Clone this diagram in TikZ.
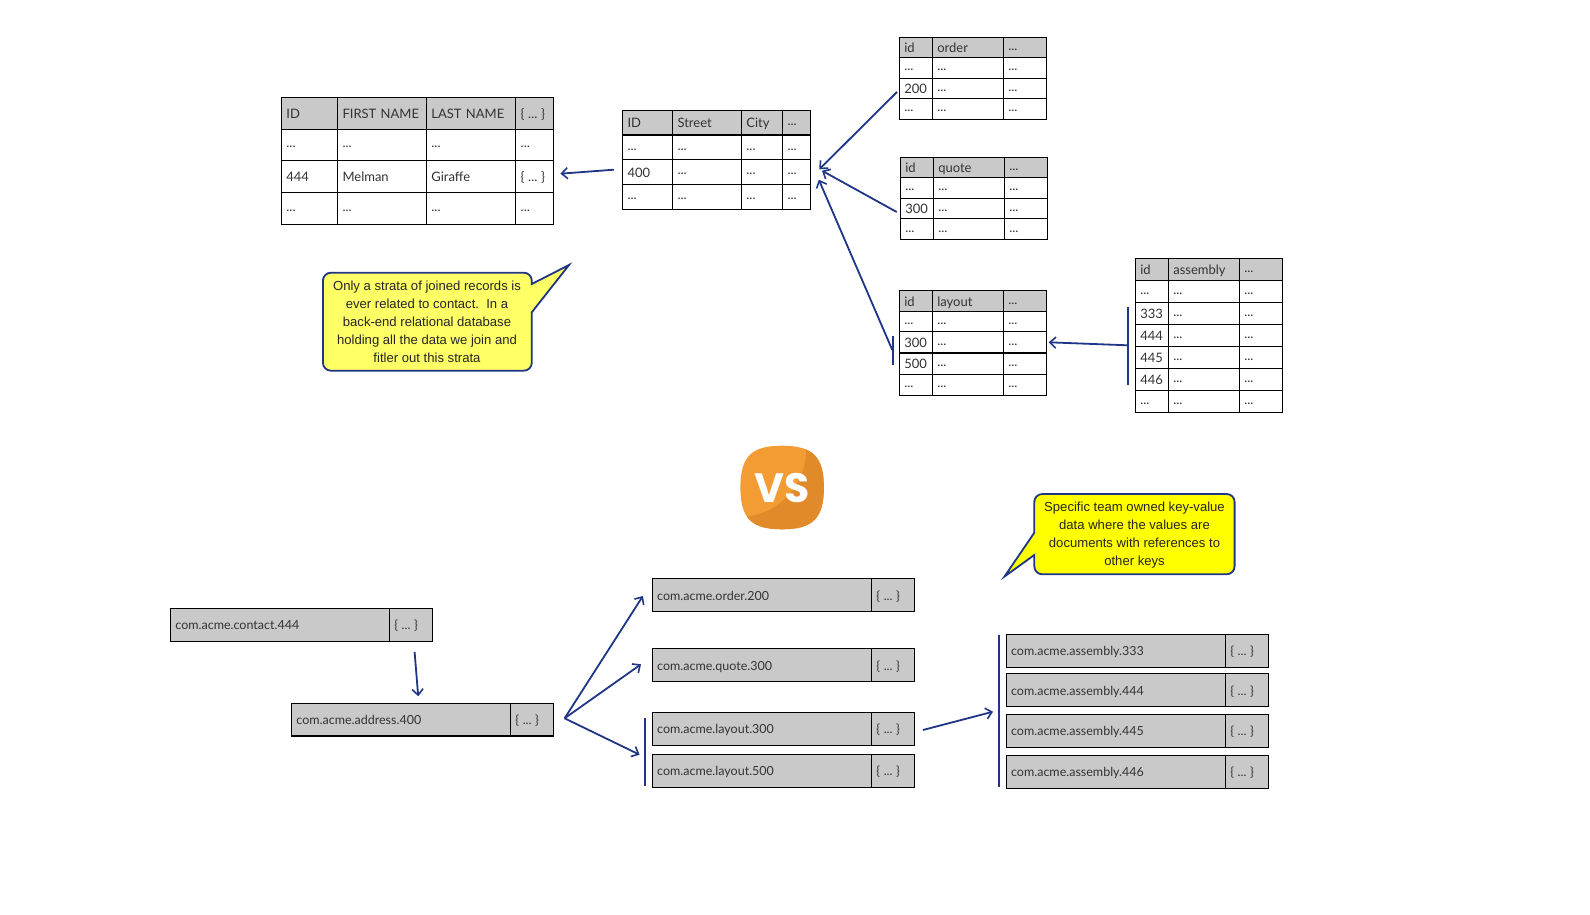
\documentclass[tikz,border=0pt]{standalone}
\usepackage{fontspec}
\setmainfont{Lato}
\newfontfamily\callfont{Liberation Sans}
\newfontfamily\logofont{Poppins}
\usetikzlibrary{arrows.meta}
\definecolor{navy}{HTML}{1F3585}
\definecolor{hdrgray}{HTML}{C9C9C9}
\definecolor{ink}{HTML}{333333}
\definecolor{softyellow}{HTML}{FFFF66}
\definecolor{fullyellow}{RGB}{255,255,0}
\definecolor{logolight}{HTML}{F39C33}
\definecolor{logodark}{HTML}{E08A2A}
\newcommand{\dd}{\raisebox{2pt}{...}}
\newcommand{\bb}{\{\kern3.6pt...\kern3.6pt\}}
\tikzset{
  x=1pt,y=-1pt,
  cellbase/.style={draw=black,line width=1.1pt,inner xsep=5pt,inner ysep=0pt,align=left,text=ink,font=\fontsize{13}{15}\selectfont},
  plain/.style={cellbase,fill=white},
  head/.style={cellbase,fill=hdrgray},
  keyrow/.style={cellbase,fill=hdrgray,font=\fontsize{12.5}{15}\selectfont},
  conn/.style={draw=navy,line width=1.8pt,-{Straight Barb[length=6pt,width=11pt,line width=1.6pt]}},
  groupbar/.style={draw=navy,line width=2pt},
  calloutshape/.style={draw=navy,line width=1.8pt,line join=miter},
  callouttext/.style={align=center,inner sep=0pt,text=black!85,font=\callfont\fontsize{13.1}{18}\selectfont},
}
% name, y top, y bottom, style, list of x1/x2/text
\newcommand{\trow}[5]{%
  \foreach \xa/\xb/\cellt [count=\c] in {#5}{%
    \pgfmathsetmacro\cw{\xb-\xa}%
    \pgfmathsetmacro\ch{#3-#2}%
    \pgfmathsetmacro\tw{\cw-10}%
    \pgfmathsetmacro\cx{(\xa+\xb)/2}%
    \pgfmathsetmacro\cy{(#2+#3)/2}%
    \node[#4,minimum width=\cw pt,minimum height=\ch pt,text width=\tw pt] (#1-\c) at (\cx,\cy) {\mbox{\rule[-1pt]{0pt}{12pt}\smash{\cellt}}};
  }%
}
\begin{document}
\begin{tikzpicture}
\useasboundingbox (0,0) rectangle (1590,915);
% contact table
\trow{con0}{97.3}{129.3}{head}{281.4/337.5/ID,337.5/426.4/FIRST NAME,426.4/515.7/LAST NAME,515.7/553.2/\bb}
\trow{con1}{129.3}{160.7}{plain}{281.4/337.5/\dd,337.5/426.4/\dd,426.4/515.7/\dd,515.7/553.2/\dd}
\trow{con2}{160.7}{192.3}{plain}{281.4/337.5/444,337.5/426.4/Melman,426.4/515.7/Giraffe,515.7/553.2/\bb}
\trow{con3}{192.3}{224.7}{plain}{281.4/337.5/\dd,337.5/426.4/\dd,426.4/515.7/\dd,515.7/553.2/\dd}
% address table
\trow{adr0}{110.7}{135}{head}{622.5/672.5/ID,672.5/741.4/Street,741.4/782.5/City,782.5/810.4/\dd}
\trow{adr1}{135}{159.7}{plain}{622.5/672.5/\dd,672.5/741.4/\dd,741.4/782.5/\dd,782.5/810.4/\dd}
\trow{adr2}{159.7}{184.3}{plain}{622.5/672.5/400,672.5/741.4/\dd,741.4/782.5/\dd,782.5/810.4/\dd}
\trow{adr3}{184.3}{209.3}{plain}{622.5/672.5/\dd,672.5/741.4/\dd,741.4/782.5/\dd,782.5/810.4/\dd}
% order table
\trow{ord0}{37.3}{57.7}{head}{899.3/932.3/id,932.3/1003.3/order,1003.3/1046.3/\dd}
\trow{ord1}{57.7}{78.3}{plain}{899.3/932.3/\dd,932.3/1003.3/\dd,1003.3/1046.3/\dd}
\trow{ord2}{78.3}{98.7}{plain}{899.3/932.3/200,932.3/1003.3/\dd,1003.3/1046.3/\dd}
\trow{ord3}{98.7}{119.3}{plain}{899.3/932.3/\dd,932.3/1003.3/\dd,1003.3/1046.3/\dd}
% quote table
\trow{quo0}{157.3}{177.7}{head}{900.3/933.3/id,933.3/1004.3/quote,1004.3/1047.3/\dd}
\trow{quo1}{177.7}{198.3}{plain}{900.3/933.3/\dd,933.3/1004.3/\dd,1004.3/1047.3/\dd}
\trow{quo2}{198.3}{218.7}{plain}{900.3/933.3/300,933.3/1004.3/\dd,1004.3/1047.3/\dd}
\trow{quo3}{218.7}{239.3}{plain}{900.3/933.3/\dd,933.3/1004.3/\dd,1004.3/1047.3/\dd}
% layout table
\trow{lay0}{290.3}{311.7}{head}{899.3/932.3/id,932.3/1003.3/layout,1003.3/1046.3/\dd}
\trow{lay1}{311.7}{331.7}{plain}{899.3/932.3/\dd,932.3/1003.3/\dd,1003.3/1046.3/\dd}
\trow{lay2}{331.7}{353}{plain}{899.3/932.3/300,932.3/1003.3/\dd,1003.3/1046.3/\dd}
\trow{lay3}{353}{374.3}{plain}{899.3/932.3/500,932.3/1003.3/\dd,1003.3/1046.3/\dd}
\trow{lay4}{374.3}{395.3}{plain}{899.3/932.3/\dd,932.3/1003.3/\dd,1003.3/1046.3/\dd}
% assembly table
\trow{asm0}{258.3}{280.3}{head}{1135.3/1168.3/id,1168.3/1239.3/assembly,1239.3/1282.3/\dd}
\trow{asm1}{280.3}{302.7}{plain}{1135.3/1168.3/\dd,1168.3/1239.3/\dd,1239.3/1282.3/\dd}
\trow{asm2}{302.7}{324.3}{plain}{1135.3/1168.3/333,1168.3/1239.3/\dd,1239.3/1282.3/\dd}
\trow{asm3}{324.3}{346.3}{plain}{1135.3/1168.3/444,1168.3/1239.3/\dd,1239.3/1282.3/\dd}
\trow{asm4}{346.3}{368.3}{plain}{1135.3/1168.3/445,1168.3/1239.3/\dd,1239.3/1282.3/\dd}
\trow{asm5}{368.3}{390.3}{plain}{1135.3/1168.3/446,1168.3/1239.3/\dd,1239.3/1282.3/\dd}
\trow{asm6}{390.3}{412.3}{plain}{1135.3/1168.3/\dd,1168.3/1239.3/\dd,1239.3/1282.3/\dd}
% key-value rows
\trow{kcon}{608.3}{641.3}{keyrow}{170.4/389.3/com.acme.contact.444,389.3/432.5/\bb}
\trow{kadr}{703.7}{736}{keyrow}{291.4/510.4/com.acme.address.400,510.4/553.2/\bb}
\trow{kord}{578.7}{611.3}{keyrow}{652.2/871.4/com.acme.order.200,871.4/914.7/\bb}
\trow{kquo}{648.7}{681.3}{keyrow}{652.2/871.4/com.acme.quote.300,871.4/914.7/\bb}
\trow{klaya}{712.3}{745.3}{keyrow}{652.2/871.4/com.acme.layout.300,871.4/914.7/\bb}
\trow{klayb}{754.3}{787.3}{keyrow}{652.2/871.4/com.acme.layout.500,871.4/914.7/\bb}
\trow{kasa}{634.3}{667.3}{keyrow}{1006.1/1225.3/com.acme.assembly.333,1225.3/1268.6/\bb}
\trow{kasb}{673.7}{706.3}{keyrow}{1006.1/1225.3/com.acme.assembly.444,1225.3/1268.6/\bb}
\trow{kasc}{714.3}{747.3}{keyrow}{1006.1/1225.3/com.acme.assembly.445,1225.3/1268.6/\bb}
\trow{kasd}{755.3}{788.3}{keyrow}{1006.1/1225.3/com.acme.assembly.446,1225.3/1268.6/\bb}
% free connector ends
\coordinate (a1s) at (613.9,169.7); \coordinate (a1e) at (560.4,173.7);
\coordinate (a2s) at (897,92);      \coordinate (a2e) at (819.3,169.3);
\coordinate (a3s) at (896.7,212);   \coordinate (a3e) at (822,170.7);
\coordinate (a4s) at (892.3,350);   \coordinate (a4e) at (818.8,179.7);
\coordinate (a5s) at (1127.7,345.3);\coordinate (a5e) at (1048.7,342.3);
\coordinate (b1s) at (414.6,652);   \coordinate (b1e) at (418.2,696.3);
\coordinate (fan) at (564.6,718.3);
\coordinate (f1e) at (642.9,596);   \coordinate (f2e) at (641,664.3);
\coordinate (f3e) at (639.6,754.7);
\coordinate (b2s) at (922.9,730);   \coordinate (b2e) at (993,711.7);
\coordinate (g1t) at (893,336);     \coordinate (g1b) at (893,364.7);
\coordinate (g2t) at (1128,307.3);  \coordinate (g2b) at (1128,384.7);
\coordinate (g3t) at (645,718.3);   \coordinate (g3b) at (645,785.7);
\coordinate (g4t) at (999.2,635);   \coordinate (g4b) at (999.2,786.7);
\draw[conn] (a1s) -- (a1e);
\draw[conn] (a2s) -- (a2e);
\draw[conn] (a3s) -- (a3e);
\draw[conn] (a4s) -- (a4e);
\draw[conn] (a5s) -- (a5e);
\draw[conn] (b1s) -- (b1e);
\draw[conn] (fan) -- (f1e);
\draw[conn] (fan) -- (f2e);
\draw[conn] (fan) -- (f3e);
\draw[conn] (b2s) -- (b2e);
\draw[groupbar] (g1t) -- (g1b);
\draw[groupbar] (g2t) -- (g2b);
\draw[groupbar] (g3t) -- (g3b);
\draw[groupbar] (g4t) -- (g4b);
% callout 1
\draw[calloutshape,fill=softyellow] (531.8,284) -- (569,265) -- (531.8,312.3)
  [rounded corners=8pt] -- (531.8,370.7) -- (322.9,370.7) -- (322.9,272.7) -- (531.8,272.7) [sharp corners] -- cycle;
\node[callouttext] (note1) at (427,321.5) {Only a strata of joined records is\\ever related to contact.\ \ In a\\back-end relational database\\holding all the data we join and\\fitler out this strata};
% callout 2
\draw[calloutshape,fill=fullyellow] (1034.3,532.7) -- (1004.5,576.5) -- (1034.3,555)
  [rounded corners=8pt] -- (1034.3,574.3) -- (1234.6,574.3) -- (1234.6,494) -- (1034.3,494) [sharp corners] -- cycle;
\node[callouttext] (note2) at (1134.5,534.7) {Specific team owned key-value\\data where the values are\\documents with references to\\other keys};
% VS logo
\begin{scope}
\clip (782,445.7) .. controls (812,445.7) and (823.9,456) .. (823.9,487.5)
  .. controls (823.9,519) and (812,529.3) .. (782,529.3)
  .. controls (752,529.3) and (740.4,519) .. (740.4,487.5)
  .. controls (740.4,456) and (752,445.7) .. (782,445.7) -- cycle;
\fill[logolight] (735,440) rectangle (830,535);
\fill[logodark] (806,448) .. controls (808,475) and (787,512) .. (746.4,516.7)
  -- (746,535) -- (830,535) -- (830,448) -- cycle;
\end{scope}
\node[inner sep=0pt,text=white,font=\logofont\bfseries\fontsize{41}{41}\selectfont] (vs) at (782,488.3) {VS};
\end{tikzpicture}
\end{document}
